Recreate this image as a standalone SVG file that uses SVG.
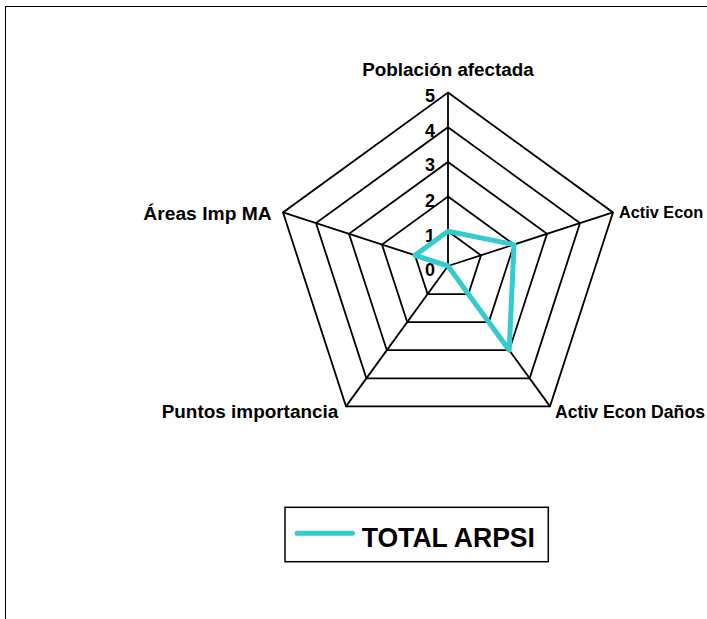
<svg xmlns="http://www.w3.org/2000/svg" width="707" height="619" viewBox="0 0 707 619">
<style>
.grid{fill:none;stroke:#000;stroke-width:1.8;stroke-linejoin:miter}
.lbl{font-family:"Liberation Sans",Arial,sans-serif;font-weight:bold;font-size:18px;fill:#000}
.tick{font-family:"Liberation Sans",Arial,sans-serif;font-weight:bold;font-size:18px;fill:#000;text-anchor:end}
.data{fill:none;stroke:#33CCCC;stroke-width:5;stroke-linejoin:round;stroke-linecap:round}
</style>
<rect x="0" y="0" width="707" height="619" fill="#fff"/>
<rect x="5.5" y="6.5" width="800" height="700" fill="none" stroke="#000" stroke-width="1"/>
<g id="grid">
<polygon class="grid" points="448,92.5 613,212.4 550,406.4 346,406.4 283,212.4"/>
<polygon class="grid" points="448,127.2 580,223.1 529.6,378.3 366.4,378.3 316,223.1"/>
<polygon class="grid" points="448,161.9 547,233.8 509.2,350.2 386.8,350.2 349,233.8"/>
<polygon class="grid" points="448,196.6 514,244.6 488.8,322.1 407.2,322.1 382,244.6"/>
<polygon class="grid" points="448,231.3 481,255.3 468.4,294.1 427.6,294.1 415,255.3"/>
</g>
<g id="connectors">
<line class="grid" x1="448" y1="266" x2="448" y2="92.5"/>
<line class="grid" x1="448" y1="266" x2="613" y2="212.4"/>
<line class="grid" x1="448" y1="266" x2="550" y2="406.4"/>
<line class="grid" x1="448" y1="266" x2="346" y2="406.4"/>
<line class="grid" x1="448" y1="266" x2="283" y2="212.4"/>
</g>
<g id="ticks">
<text class="tick" x="435" y="101.7">5</text>
<text class="tick" x="435" y="136.6">4</text>
<text class="tick" x="435" y="171">3</text>
<text class="tick" x="435" y="207">2</text>
<text class="tick" x="435" y="242">1</text>
<text class="tick" x="435" y="276">0</text>
</g>
<g id="series-total-arpsi">
<polygon class="data" points="448,231.3 514,244.6 509.2,350.2 448,266 415,255.3"/>
</g>
<g id="axis-poblacion"><text class="lbl" x="448" y="76" text-anchor="middle" textLength="171.6" lengthAdjust="spacingAndGlyphs">Población afectada</text></g>
<g id="axis-activ-econ"><text class="lbl" x="619" y="218.3" style="font-size:16.3px">Activ Econ</text></g>
<g id="axis-activ-econ-danos"><text class="lbl" x="555" y="418.3" textLength="150" lengthAdjust="spacingAndGlyphs">Activ Econ Daños</text></g>
<g id="axis-puntos"><text class="lbl" x="161.7" y="418.3" textLength="176.6" lengthAdjust="spacingAndGlyphs">Puntos importancia</text></g>
<g id="axis-areas"><text class="lbl" x="143.3" y="220" textLength="128.4" lengthAdjust="spacingAndGlyphs">Áreas Imp MA</text></g>
<g id="legend">
<rect x="285" y="507.3" width="263.3" height="54.4" fill="#fff" stroke="#000" stroke-width="1.5"/>
<line x1="297" y1="533.3" x2="352.5" y2="533.3" stroke="#33CCCC" stroke-width="5" stroke-linecap="round"/>
<text x="361.7" y="546.7" font-family="'Liberation Sans',Arial,sans-serif" font-weight="bold" font-size="27" textLength="173.3" lengthAdjust="spacingAndGlyphs">TOTAL ARPSI</text>
</g>
</svg>
